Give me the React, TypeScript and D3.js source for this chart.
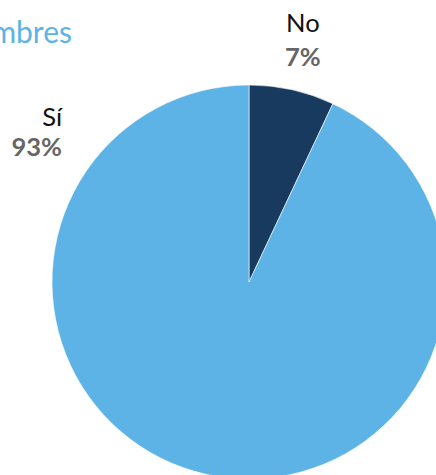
import React from "react";
import * as d3 from "d3";

const categories = ["No", "Sí"];
const values = [7, 93];
const percentLabels = ["7%", "93%"];
const title = "Hombres";
const colors = ["#173A5E", "#5DB3E5"];

export default function App() {
  const W = 436, H = 475;
  const cx = 249, cy = 282, R = 197;
  const pie = d3.pie<number>().sort(null).value((d) => d)(values);
  const arc = d3.arc<d3.PieArcDatum<number>>().innerRadius(0).outerRadius(R);
  const labelArc = d3.arc<d3.PieArcDatum<number>>().innerRadius(247).outerRadius(247);
  const font = "Lato, 'Open Sans', sans-serif";
  return (
    <svg width={W} height={H} style={{ position: "absolute", left: 0, top: 0 }}>
      <rect width={W} height={H} fill="#fff" />
      <text x={72} y={43} textAnchor="end" fontFamily={font} fontSize={30} fill="#5DB3E5">{title}</text>
      <g transform={`translate(${cx},${cy})`}>
        {pie.map((p, i) => (
          <path key={i} d={arc(p) || ""} fill={colors[i]} stroke="#fff" strokeWidth={0.6} />
        ))}
      </g>
      {pie.map((p, i) => {
        let x: number, y: number, anchor: string;
        if (i === 0) {
          const c = labelArc.centroid(p);
          x = cx + c[0];
          y = cy + c[1] - 9;
          anchor = "middle";
        } else {
          x = 62;
          y = 126;
          anchor = "end";
        }
        return (
          <g key={"l" + i} fontFamily={font} fontSize={25.5} textAnchor={anchor}>
            <text x={x} y={y} fill="#111">{categories[i]}</text>
            <text x={x} y={y + (i === 0 ? 34 : 30)} fill="#666" fontWeight="bold">{percentLabels[i]}</text>
          </g>
        );
      })}
    </svg>
  );
}
